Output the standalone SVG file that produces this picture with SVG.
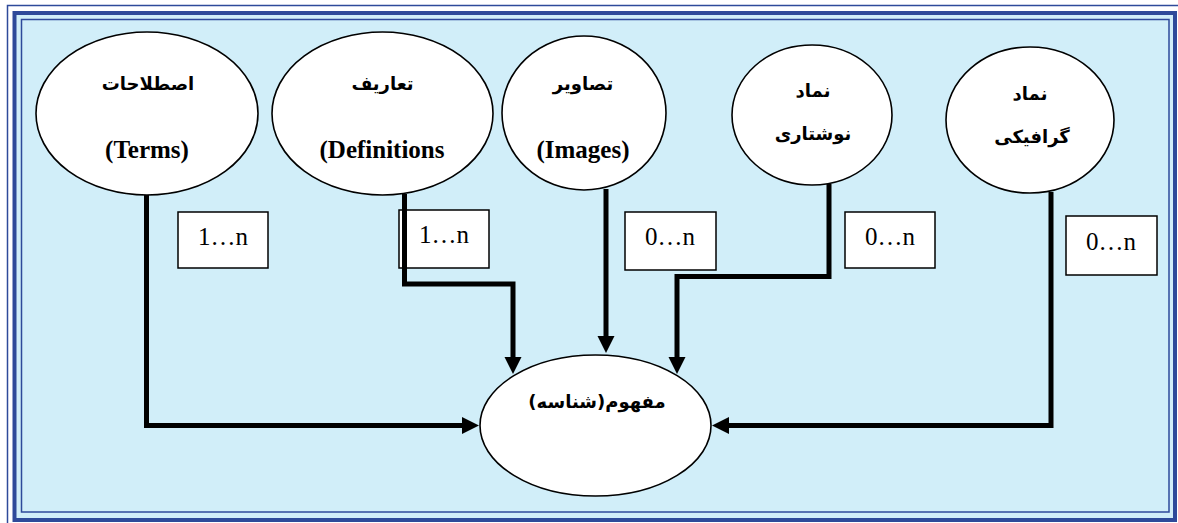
<svg xmlns="http://www.w3.org/2000/svg" width="1178" height="523" viewBox="0 0 1178 523">
<style>
.ell{fill:#ffffff;stroke:#000000;stroke-width:1.6}
.box{fill:#ffffff;stroke:#000000;stroke-width:1.5}
.fa{font-family:"DejaVu Sans","Noto Sans",sans-serif;font-weight:bold;font-size:18px;fill:#000;direction:rtl;unicode-bidi:embed;text-anchor:middle}
.en{font-family:"Liberation Serif","Times New Roman",serif;font-weight:bold;font-size:25px;fill:#000;text-anchor:middle}
.card{font-family:"Liberation Serif","Times New Roman",serif;font-size:25px;fill:#000;text-anchor:middle}
.con{fill:none;stroke:#000000;stroke-width:5;stroke-linejoin:miter;stroke-linecap:butt}
</style>
<defs>
<marker id="ah" markerUnits="userSpaceOnUse" markerWidth="17" markerHeight="17" viewBox="0 0 17 17" refX="1" refY="8.5" orient="auto" overflow="visible">
<path d="M0,0 L17,8.5 L0,17 z" fill="#000"/>
</marker>
</defs>
<g id="frame">
<rect x="0" y="0" width="1178" height="523" fill="#ffffff"/>
<rect x="7.5" y="5.5" width="1180" height="530" fill="none" stroke="#2e4a9a" stroke-width="1.5"/>
<rect x="14.5" y="13" width="1160.5" height="507" fill="#d1eef9" stroke="#2e4a9a" stroke-width="4"/>
<rect x="21.5" y="19.5" width="1147.5" height="492.5" fill="none" stroke="#2e4a9a" stroke-width="1.5"/>
</g>
<g id="node-terms">
<ellipse class="ell" cx="147" cy="113.5" rx="111" ry="81.5"/>
<text class="fa" x="148" y="90">اصطلاحات</text>
<text class="en" x="147" y="158">(Terms)</text>
</g>
<g id="node-definitions">
<ellipse class="ell" cx="382.5" cy="113.5" rx="110.5" ry="81.5"/>
<text class="fa" x="382.5" y="90">تعاریف</text>
<text class="en" x="382" y="158">(Definitions</text>
</g>
<g id="node-images">
<ellipse class="ell" cx="584" cy="113" rx="82" ry="77"/>
<text class="fa" x="583" y="90">تصاویر</text>
<text class="en" x="583" y="158">(Images)</text>
</g>
<g id="node-written-symbol">
<ellipse class="ell" cx="812" cy="115" rx="80" ry="70"/>
<text class="fa" x="813" y="97">نماد</text>
<text class="fa" x="813" y="140">نوشتاری</text>
</g>
<g id="node-graphic-symbol">
<ellipse class="ell" cx="1030" cy="120" rx="84" ry="73"/>
<text class="fa" x="1030" y="100">نماد</text>
<text class="fa" x="1032" y="143">گرافیکی</text>
</g>
<g id="node-concept">
<ellipse class="ell" cx="595.5" cy="425.5" rx="115.5" ry="70.5"/>
<text class="fa" x="597" y="408">مفهوم(شناسه)</text>
</g>
<g id="cardinalities">
<g id="card-terms"><rect class="box" x="178" y="212" width="90" height="56"/><text class="card" x="223" y="245">1…n</text></g>
<g id="card-definitions"><rect class="box" x="399" y="210" width="90" height="58"/><text class="card" x="444" y="243">1…n</text></g>
<g id="card-images"><rect class="box" x="625" y="212" width="91" height="58"/><text class="card" x="670" y="245">0…n</text></g>
<g id="card-written"><rect class="box" x="845" y="212" width="90" height="56"/><text class="card" x="890" y="245">0…n</text></g>
<g id="card-graphic"><rect class="box" x="1066" y="216" width="91" height="59"/><text class="card" x="1111" y="250">0…n</text></g>
</g>
<g id="connectors">
<path class="con" d="M146.5,195 V425.5 H463" marker-end="url(#ah)"/>
<path class="con" d="M404.5,194 V284 H513 V358" marker-end="url(#ah)"/>
<path class="con" d="M606,189 V337" marker-end="url(#ah)"/>
<path class="con" d="M829,184 V276.5 H677 V358" marker-end="url(#ah)"/>
<path class="con" d="M1051,192 V425.5 H728" marker-end="url(#ah)"/>
</g>
</svg>
